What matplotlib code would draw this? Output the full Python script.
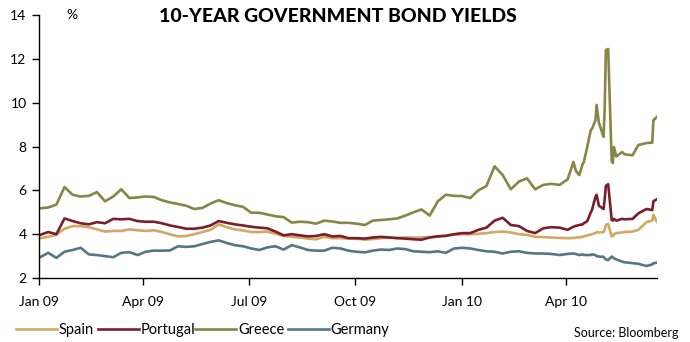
import numpy as np
import pandas as pd
import matplotlib
matplotlib.use("Agg")
import matplotlib.pyplot as plt
import matplotlib.dates as mdates

plt.rcParams["font.family"] = ["Lato", "DejaVu Sans"]

# weekly readings Jan 09 - Apr 10, then denser dates through the May 2010 spike
weekly_dates = pd.date_range("2009-01-02", "2010-04-02", freq="W-FRI")
late_dates = pd.to_datetime([
    "2010-04-07", "2010-04-09", "2010-04-12", "2010-04-15", "2010-04-16",
    "2010-04-19", "2010-04-22", "2010-04-23", "2010-04-26", "2010-04-27",
    "2010-04-29", "2010-05-03", "2010-05-04", "2010-05-05", "2010-05-07",
    "2010-05-10", "2010-05-11", "2010-05-12", "2010-05-14", "2010-05-19",
    "2010-05-21", "2010-05-28", "2010-06-02", "2010-06-09", "2010-06-14",
    "2010-06-15", "2010-06-18",
])
dates = weekly_dates.append(late_dates)

spain = [
    3.82, 3.88, 3.98, 4.25, 4.37, 4.37, 4.32, 4.22, 4.12, 4.15,
    4.15, 4.22, 4.18, 4.15, 4.18, 4.10, 4.00, 3.90, 3.92, 4.00,
    4.10, 4.20, 4.45, 4.32, 4.22, 4.17, 4.10, 4.10, 4.12, 4.02,
    3.92, 3.88, 3.85, 3.80, 3.77, 3.88, 3.82, 3.82, 3.80, 3.80,
    3.75, 3.78, 3.82, 3.85, 3.83, 3.85, 3.85, 3.85, 3.87, 3.90,
    3.92, 3.98, 4.00, 4.00, 4.02, 4.05, 4.10, 4.12, 4.08, 4.00,
    3.97, 3.88, 3.87, 3.85, 3.83, 3.82,
    3.83, 3.85, 3.86, 3.88, 3.90, 3.95, 3.98, 4.00, 4.05, 4.10,
    4.08, 4.10, 4.20, 4.42, 4.47, 3.90, 3.92, 4.00, 4.05, 4.08,
    4.10, 4.12, 4.20, 4.55, 4.62, 4.88, 4.57,
]
portugal = [
    3.97, 4.10, 4.00, 4.72, 4.60, 4.50, 4.45, 4.55, 4.50, 4.70,
    4.68, 4.70, 4.60, 4.57, 4.57, 4.50, 4.40, 4.33, 4.25, 4.25,
    4.30, 4.40, 4.60, 4.52, 4.45, 4.40, 4.34, 4.30, 4.27, 4.12,
    3.95, 4.00, 3.95, 3.90, 3.92, 4.00, 3.90, 3.92, 3.82, 3.82,
    3.80, 3.85, 3.88, 3.85, 3.82, 3.80, 3.77, 3.75, 3.85, 3.90,
    3.93, 4.00, 4.05, 4.05, 4.20, 4.30, 4.62, 4.75, 4.42, 4.37,
    4.15, 4.05, 4.27, 4.32, 4.30, 4.20,
    4.34, 4.38, 4.42, 4.45, 4.50, 4.60, 5.00, 5.10, 5.70, 5.80,
    5.30, 5.15, 5.60, 6.20, 6.28, 4.65, 4.62, 4.70, 4.62, 4.70,
    4.68, 4.70, 4.95, 5.15, 5.10, 5.50, 5.60,
]
greece = [
    5.18, 5.22, 5.35, 6.15, 5.80, 5.72, 5.75, 5.92, 5.50, 5.72,
    6.05, 5.65, 5.68, 5.72, 5.70, 5.55, 5.45, 5.38, 5.30, 5.15,
    5.20, 5.40, 5.55, 5.42, 5.32, 5.25, 4.98, 4.98, 4.90, 4.82,
    4.78, 4.53, 4.57, 4.55, 4.48, 4.62, 4.58, 4.52, 4.52, 4.48,
    4.42, 4.62, 4.65, 4.68, 4.72, 4.85, 5.00, 5.13, 4.85, 5.50,
    5.80, 5.75, 5.74, 5.65, 6.00, 6.20, 7.10, 6.70, 6.05, 6.40,
    6.55, 6.05, 6.25, 6.30, 6.25, 6.50,
    7.30, 6.90, 6.70, 7.20, 7.30, 8.00, 8.76, 8.80, 9.20, 9.90,
    9.08, 8.44, 9.80, 12.40, 12.45, 7.35, 7.25, 7.98, 7.55, 7.75,
    7.65, 7.60, 8.07, 8.16, 8.18, 9.20, 9.35,
]
germany = [
    2.95, 3.15, 2.92, 3.20, 3.28, 3.38, 3.08, 3.05, 3.00, 2.95,
    3.15, 3.18, 3.05, 3.20, 3.25, 3.25, 3.26, 3.45, 3.42, 3.45,
    3.55, 3.65, 3.72, 3.60, 3.50, 3.45, 3.35, 3.28, 3.40, 3.45,
    3.30, 3.50, 3.40, 3.28, 3.25, 3.25, 3.38, 3.35, 3.25, 3.20,
    3.17, 3.25, 3.30, 3.28, 3.35, 3.32, 3.22, 3.20, 3.18, 3.22,
    3.15, 3.35, 3.38, 3.35, 3.28, 3.22, 3.20, 3.12, 3.20, 3.22,
    3.15, 3.12, 3.12, 3.10, 3.05, 3.10,
    3.12, 3.10, 3.05, 3.08, 3.05, 3.05, 3.05, 3.08, 3.05, 3.00,
    2.98, 2.97, 2.90, 2.85, 2.82, 2.98, 2.95, 2.90, 2.85, 2.75,
    2.72, 2.68, 2.65, 2.55, 2.62, 2.68, 2.70,
]

tick_dates = pd.to_datetime(["2009-01-01", "2009-04-01", "2009-07-01",
                             "2009-10-01", "2010-01-01", "2010-04-01"])
tick_labels = ["Jan 09", "Apr 09", "Jul 09", "Oct 09", "Jan 10", "Apr 10"]

series = [
    ("Spain", spain, "#D2A862"),
    ("Portugal", portugal, "#7A1E2C"),
    ("Greece", greece, "#868646"),
    ("Germany", germany, "#557785"),
]
# legend entries sit at uneven spots in the original
legend_x = [0.023, 0.142, 0.283, 0.417]

fig = plt.figure(figsize=(6.9, 3.42), dpi=100)
ax = fig.add_axes([0.0565, 0.187, 0.8955, 0.769])

handles = []
for name, vals, col in series:
    ln, = ax.plot(dates, vals, color=col, lw=1.9, label=name,
                  solid_joinstyle="round")
    handles.append(ln)

ax.set_xlim(pd.Timestamp("2009-01-01"), pd.Timestamp("2010-06-18"))
ax.set_ylim(2, 14)
ax.set_yticks([2, 4, 6, 8, 10, 12, 14])
ax.set_xticks(tick_dates)
ax.set_xticklabels(tick_labels)

for s in ["top", "right"]:
    ax.spines[s].set_visible(False)
for s in ["left", "bottom"]:
    ax.spines[s].set_linewidth(1.0)
ax.tick_params(axis="both", direction="out", length=5, width=1.0,
               labelsize=10, colors="black")
ax.tick_params(axis="x", pad=8)
ax.tick_params(axis="y", pad=4)

ax.text(0.045, 1.0, "%", transform=ax.transAxes, fontsize=10,
        ha="left", va="center")
fig.text(0.49, 0.952, "10-YEAR GOVERNMENT BOND YIELDS", fontsize=14,
         fontweight="black", ha="center", va="center")

for h, (name, _, _), x in zip(handles, series, legend_x):
    fig.legend([h], [name], loc="center left", bbox_to_anchor=(x, 0.035),
               frameon=False, fontsize=10.5, handlelength=2.8,
               handletextpad=0.15, borderpad=0, borderaxespad=0)
fig.text(0.983, 0.027, "Source: Bloomberg", fontsize=9, ha="right", va="center")

fig.savefig("out.png", dpi=100)
